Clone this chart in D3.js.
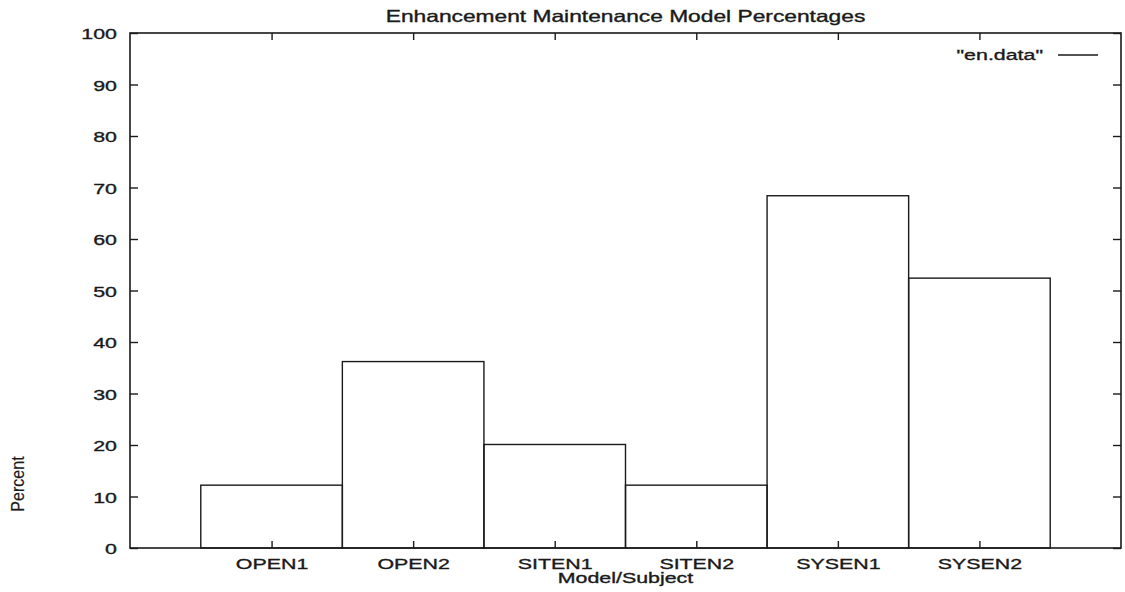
<!DOCTYPE html>
<html>
<head>
<meta charset="utf-8">
<script src="https://cdn.jsdelivr.net/npm/d3@7"></script>
<style>
  html, body { margin: 0; padding: 0; background: #fff; }
  svg { display: block; }
  text { font-family: "Liberation Sans", Arial, sans-serif; fill: #1a1a1a; stroke: #1a1a1a; stroke-width: 0.35px; }
</style>
</head>
<body>
<svg id="chart" width="1125" height="592"></svg>
<script>
// Enhancement maintenance percentages per model/subject
const categories = ["OPEN1", "OPEN2", "SITEN1", "SITEN2", "SYSEN1", "SYSEN2"];
const percents   = [12.2, 36.2, 20.1, 12.2, 68.4, 52.4];
const yTicks     = [0, 10, 20, 30, 40, 50, 60, 70, 80, 90, 100];

const svg = d3.select("#chart");
const plotLeft = 130, plotRight = 1121, plotTop = 33, plotBottom = 548;
const ink = "#1a1a1a";
const fs = 15.5;       // label font size
const stretch = 1.38;  // wide lettering

// categories sit at 1..6 on a 0..7 axis, boxes are one unit wide
const x = d3.scaleLinear().domain([0, categories.length + 1]).range([plotLeft, plotRight]);
const y = d3.scaleLinear().domain([0, 100]).range([plotBottom, plotTop]);

// frame
svg.append("rect")
  .attr("x", plotLeft).attr("y", plotTop)
  .attr("width", plotRight - plotLeft).attr("height", plotBottom - plotTop)
  .attr("fill", "none").attr("stroke", ink).attr("stroke-width", 1.6);

// y axis, ticks pointing inward, mirrored on the right
svg.append("g").attr("transform", `translate(${plotLeft},0)`)
  .call(d3.axisLeft(y).tickValues(yTicks).tickSize(-8))
  .call(g => g.select(".domain").remove())
  .call(g => g.selectAll("line").attr("stroke", ink).attr("stroke-width", 1.4))
  .call(g => g.selectAll("text")
    .attr("x", 0).attr("dy", "0.36em")
    .attr("transform", `translate(-13,0) scale(${stretch},1)`)
    .attr("font-size", fs).attr("fill", ink));
svg.append("g").attr("transform", `translate(${plotRight},0)`)
  .call(d3.axisRight(y).tickValues(yTicks).tickSize(-8).tickFormat(""))
  .call(g => g.select(".domain").remove())
  .call(g => g.selectAll("line").attr("stroke", ink).attr("stroke-width", 1.4));

// x axis with category labels, ticks inward, mirrored at the top
const xTickVals = categories.map((_, i) => i + 1);
svg.append("g").attr("transform", `translate(0,${plotBottom})`)
  .call(d3.axisBottom(x).tickValues(xTickVals).tickSize(-7)
    .tickFormat((d) => categories[d - 1]))
  .call(g => g.select(".domain").remove())
  .call(g => g.selectAll("line").attr("stroke", ink).attr("stroke-width", 1.4))
  .call(g => g.selectAll("text")
    .attr("y", 21).attr("dy", 0)
    .attr("transform", `scale(${stretch},1)`)
    .attr("font-size", fs).attr("fill", ink));
svg.append("g").attr("transform", `translate(0,${plotTop})`)
  .call(d3.axisTop(x).tickValues(xTickVals).tickSize(-7).tickFormat(""))
  .call(g => g.select(".domain").remove())
  .call(g => g.selectAll("line").attr("stroke", ink).attr("stroke-width", 1.4));

// boxes
svg.append("g").selectAll("rect")
  .data(percents)
  .join("rect")
  .attr("x", (d, i) => x(i + 0.5))
  .attr("y", d => y(d))
  .attr("width", x(1) - x(0))
  .attr("height", d => y(0) - y(d))
  .attr("fill", "none")
  .attr("stroke", ink)
  .attr("stroke-width", 1.4);

// title
svg.append("text")
  .attr("transform", `translate(${(plotLeft + plotRight) / 2},22) scale(${stretch},1)`)
  .attr("text-anchor", "middle").attr("font-size", 16.5)
  .text("Enhancement Maintenance Model Percentages");

// axis titles
svg.append("text")
  .attr("transform", `translate(${(plotLeft + plotRight) / 2},583) scale(${stretch},1)`)
  .attr("text-anchor", "middle").attr("font-size", fs)
  .text("Model/Subject");
svg.append("text")
  .attr("transform", "translate(24,484) rotate(-90) scale(0.92,1)")
  .attr("text-anchor", "middle").attr("font-size", 17.5)
  .style("stroke-width", "0.15px")
  .text("Percent");

// legend
svg.append("text")
  .attr("transform", `translate(1043,60) scale(${stretch},1)`)
  .attr("text-anchor", "end").attr("font-size", fs)
  .text("\"en.data\"");
svg.append("line")
  .attr("x1", 1058).attr("x2", 1098).attr("y1", 55).attr("y2", 55)
  .attr("stroke", ink).attr("stroke-width", 1.4);
</script>
</body>
</html>
